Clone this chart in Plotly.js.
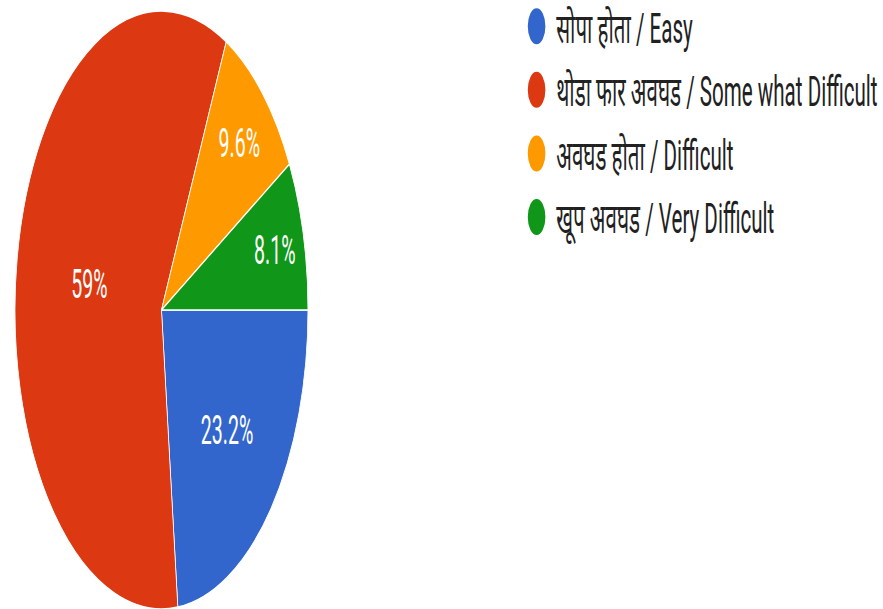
<!DOCTYPE html>
<html>
<head>
<meta charset="utf-8">
<script src="https://cdn.plot.ly/plotly-3.0.1.min.js"></script>
<style>
  html, body { margin: 0; padding: 0; background: #ffffff; }
  body { width: 883px; height: 609px; overflow: hidden; position: relative; }
  #wrap { position: absolute; left: 0; top: -20px; width: 901px; height: 315px; transform: scale(0.98, 2); transform-origin: 0 0; }
</style>
</head>
<body>
<div id="wrap"></div>
<script>
const categories = [
  "सोपा होता / Easy",
  "थोडा फार अवघड / Some what Difficult",
  "अवघड होता / Difficult",
  "खूप अवघड / Very Difficult"
];
const percentValues = [23.2, 59, 9.6, 8.1];
const percentLabels = ["23.2%", "59%", "9.6%", "8.1%"];
const colors = ["#3366cc", "#dc3912", "#ff9900", "#109618"];

const fontFam = "Roboto, Arial, 'Noto Sans', sans-serif";

const traces = [{
  type: "pie",
  labels: categories,
  values: percentValues,
  text: percentLabels,
  textinfo: "text",
  textposition: "inside",
  insidetextorientation: "horizontal",
  textfont: { family: fontFam, size: 20, color: "#ffffff" },
  sort: false,
  direction: "clockwise",
  rotation: 90,
  marker: { colors: colors, line: { color: "#ffffff", width: 0.8 } },
  showlegend: false,
  domain: { x: [0.017, 0.3488], y: [0.0016, 0.982] },
  hoverinfo: "none"
}];

categories.forEach((c, i) => {
  traces.push({
    type: "scatter",
    mode: "markers",
    x: [null], y: [null],
    name: c,
    legendgroup: "g" + i,
    marker: { color: colors[i], size: 16, symbol: "circle", line: { color: colors[i], width: 2 } },
    showlegend: true,
    hoverinfo: "none"
  });
});

const layout = {
  width: 901,
  height: 315,
  margin: { l: 0, r: 0, t: 10, b: 0, autoexpand: false },
  paper_bgcolor: "#ffffff",
  plot_bgcolor: "#ffffff",
  xaxis: { visible: false },
  yaxis: { visible: false },
  showlegend: true,
  legend: {
    x: 0.5855, xanchor: "left",
    y: 1.023, yanchor: "top",
    font: { family: fontFam, size: 21, color: "#212121" },
    tracegroupgap: 1.5,
    bgcolor: "rgba(0,0,0,0)"
  }
};

Plotly.newPlot("wrap", traces, layout, { staticPlot: true, displayModeBar: false });
</script>
</body>
</html>
